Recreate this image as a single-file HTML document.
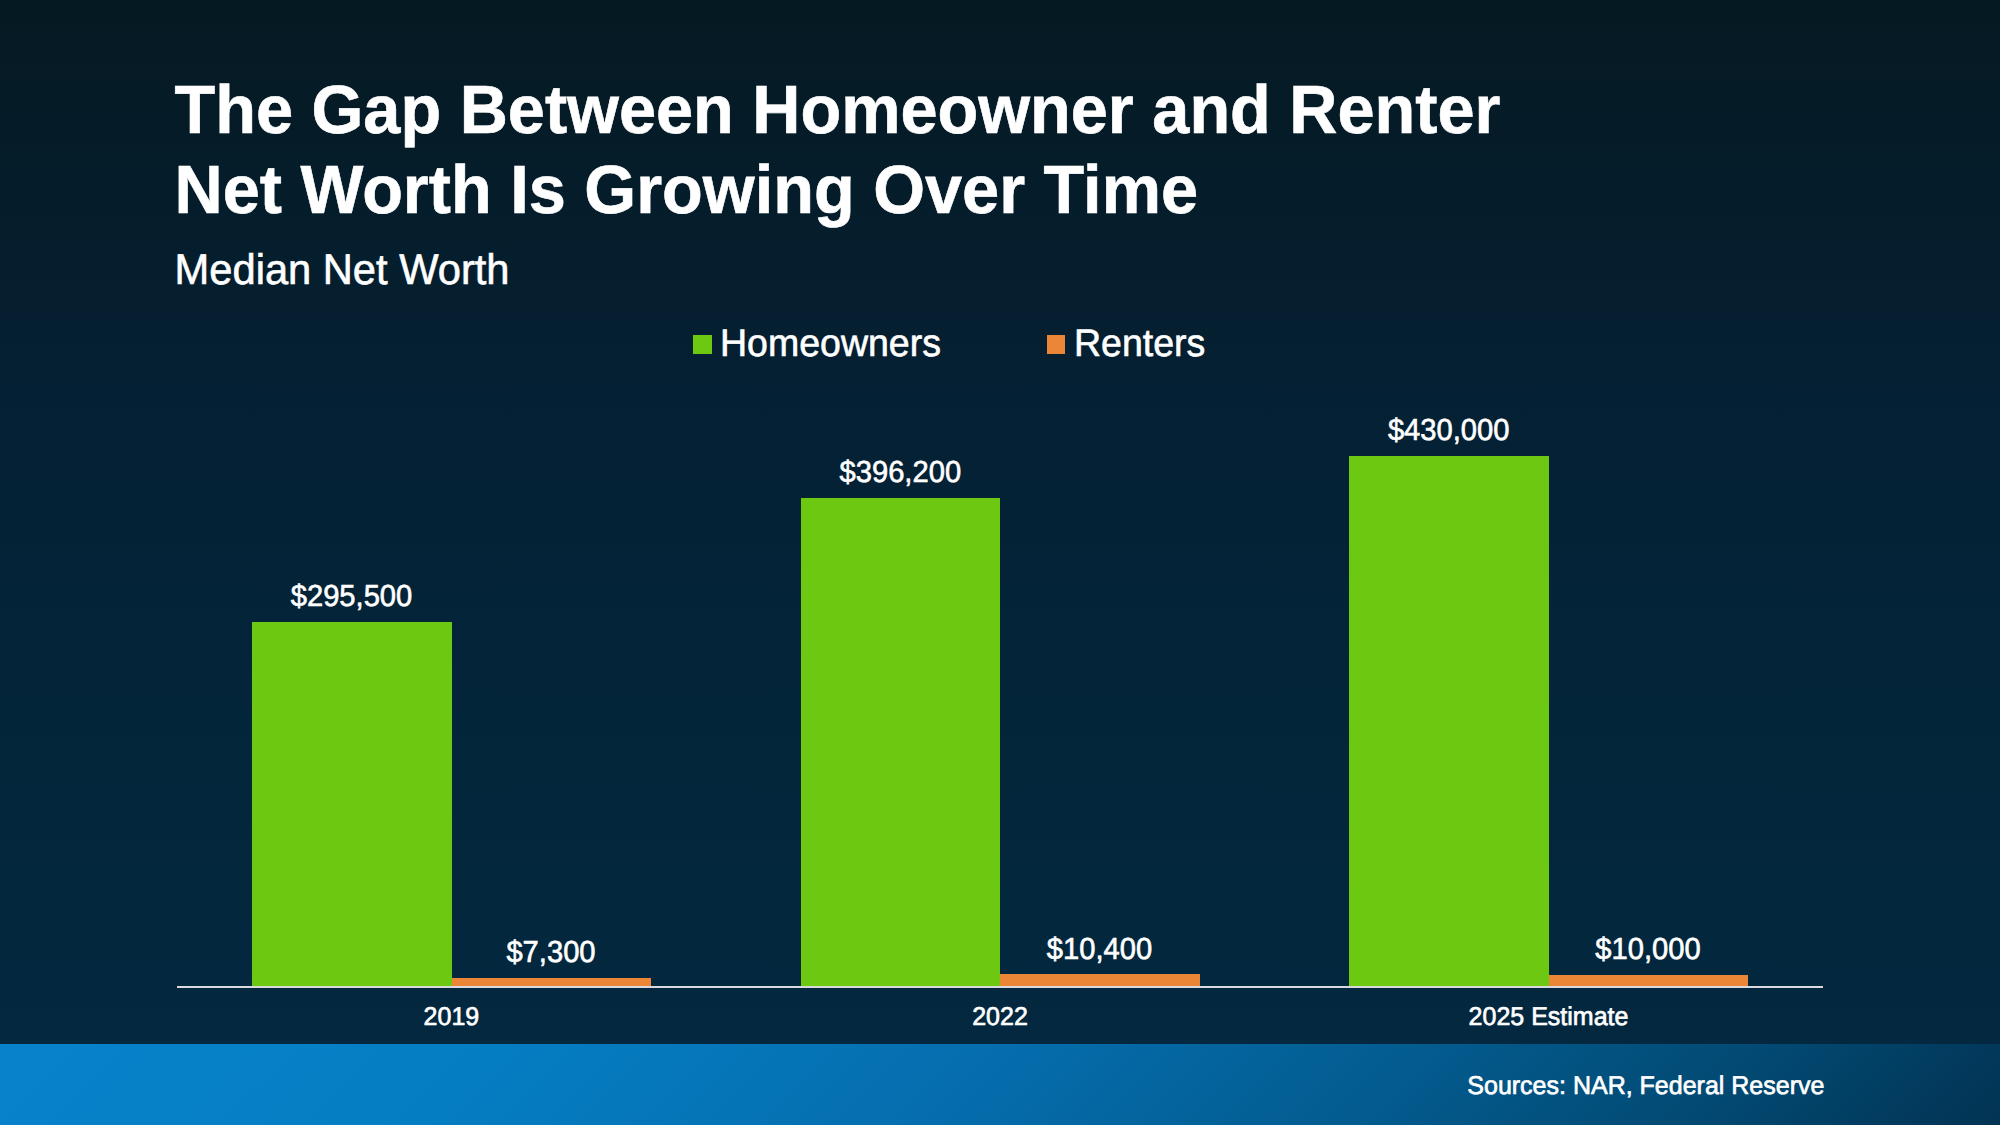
<!DOCTYPE html>
<html lang="en">
<head>
<meta charset="utf-8">
<title>The Gap Between Homeowner and Renter Net Worth Is Growing Over Time</title>
<style>
  html, body { margin: 0; padding: 0; }
  body { width: 2000px; height: 1125px; overflow: hidden; background: #03283f; }
  #slide {
    position: relative; width: 2000px; height: 1125px; overflow: hidden;
    font-family: "Liberation Sans", sans-serif; color: #fff; text-rendering: geometricPrecision;
    background: linear-gradient(180deg, #051922 0px, #051c28 130px, #051e2d 250px, #052033 380px, #042236 510px, #03263b 770px, #03283f 1044px, #03283f 1125px);
  }
  #footer {
    position: absolute; left: 0; top: 1044px; width: 2000px; height: 81px;
    background: linear-gradient(135deg, #0783cc 0%, #057dc2 24.8%, #056dad 48.8%, #035c90 68%, #024a73 84.9%, #02385a 96.4%, #023454 100%);
  }
  .t { position: absolute; white-space: nowrap; line-height: 1; margin: 0; transform-origin: 50% 84.65%; transform: scaleY(1.025); -webkit-text-stroke: 0.6px #fff; }
  h1.t { font-size: 66.67px; font-weight: 700; left: 174.5px; }
  #t1 { top: 77.9px; }
  #t2 { top: 157.9px; }
  #sub { font-size: 41.67px; left: 174.6px; top: 249px; font-weight: 400; }
  .leg { font-size: 37.5px; top: 325px; }
  .sw { position: absolute; width: 19px; height: 19px; top: 335px; }
  .g { background: #6cc811; }
  .o { background: #ea8636; }
  .bar { position: absolute; }
  .dl { font-size: 29.17px; transform: translateX(-50%) scaleY(1.045); -webkit-text-stroke-width: 0.6px; }
  .ax { font-size: 25px; transform: translateX(-50%) scaleY(1.03); top: 1005px; -webkit-text-stroke-width: 0.65px; }
  #axis { position: absolute; left: 177px; top: 986px; width: 1646px; height: 2px; background: #d9dadd; }
  #src { -webkit-text-stroke-width: 0.65px; font-size: 25px; right: 175.6px; top: 1074px; }
</style>
</head>
<body>
<div id="slide">
  <h1 class="t" id="t1">The Gap Between Homeowner and Renter</h1>
  <h1 class="t" id="t2">Net Worth Is Growing Over Time</h1>
  <div class="t" id="sub">Median Net Worth</div>

  <div class="sw g" style="left:693px"></div>
  <div class="t leg" style="left:720px">Homeowners</div>
  <div class="sw o" style="left:1047px;width:18px"></div>
  <div class="t leg" style="left:1074px">Renters</div>

  <div class="bar g" style="left:252px;width:200px;top:622px;height:364px"></div>
  <div class="bar o" style="left:452px;width:199px;top:978px;height:8px"></div>
  <div class="bar g" style="left:801px;width:199px;top:498px;height:488px"></div>
  <div class="bar o" style="left:1000px;width:200px;top:974px;height:12px"></div>
  <div class="bar g" style="left:1349px;width:200px;top:456px;height:530px"></div>
  <div class="bar o" style="left:1549px;width:199px;top:975px;height:11px"></div>
  <div id="axis"></div>

  <div class="t dl" style="left:351.5px;top:583px">$295,500</div>
  <div class="t dl" style="left:551px;top:938.9px">$7,300</div>
  <div class="t dl" style="left:900.3px;top:458.9px">$396,200</div>
  <div class="t dl" style="left:1099.5px;top:935.9px">$10,400</div>
  <div class="t dl" style="left:1448.7px;top:416.9px">$430,000</div>
  <div class="t dl" style="left:1648px;top:935.9px">$10,000</div>

  <div class="t ax" style="left:451.4px">2019</div>
  <div class="t ax" style="left:1000px">2022</div>
  <div class="t ax" style="left:1548.5px">2025 Estimate</div>

  <div id="footer"></div>
  <div class="t" id="src">Sources: NAR, Federal Reserve</div>
</div>
</body>
</html>
